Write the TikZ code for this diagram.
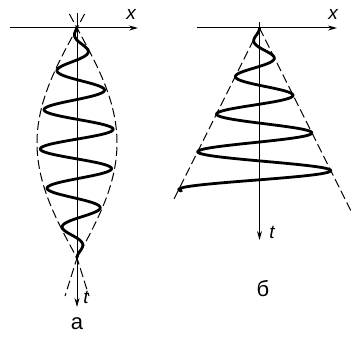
\documentclass[tikz,border=0pt]{standalone}
\usepackage{fontspec}
\setmainfont{Liberation Sans}
\usetikzlibrary{arrows.meta}

\tikzset{
  axis/.style={line width=1pt, -{Stealth[length=9pt, width=5pt]}},
  envelope/.style={line width=1pt, dash pattern=on 9pt off 4pt},
  wave/.style={line width=2.8pt, line join=round, line cap=round},
  lbl/.style={font=\fontsize{22}{24}\selectfont},
  axlbl/.style={font=\fontsize{19}{21}\selectfont\itshape}
}

\begin{document}
\begin{tikzpicture}[x=1pt, y=-1pt]
  \useasboundingbox (0,0) rectangle (352,342);

  % Panel a: axes
  \coordinate (Oa) at (77,28);
  \coordinate (xa0) at (10,28);
  \coordinate (xa1) at (138,28);
  \coordinate (ta0) at (77,13);
  \coordinate (ta1) at (77,307);
  \draw[axis] (xa0) -- (xa1);
  \draw[axis] (ta0) -- (ta1);
  \node[axlbl] (xlabela) at (131,14) {x};
  \node[axlbl] (tlabela) at (86,297) {t};

  % Panel a: envelope
  \draw[envelope] plot[variable=\t, domain=14:258, samples=80]
    ({77 - 40*sin((\t-28)*0.78261)}, \t) -- (89,296);
  \draw[envelope] plot[variable=\t, domain=14:258, samples=80]
    ({77 + 40*sin((\t-28)*0.78261)}, \t) -- (65,296);

  % Panel a: wave
  \draw[wave] plot[variable=\t, domain=28:258, samples=400, smooth]
    ({77 + 36.8*sin((\t-28)*0.78261)*sin((\t-40.1)*9.0909)}, \t);
  \node[lbl] (capa) at (77,324) {а};

  % Panel b: axes
  \coordinate (Ob) at (259.5,28);
  \coordinate (xb0) at (197,28);
  \coordinate (xb1) at (337,28);
  \coordinate (tb0) at (259.5,22);
  \coordinate (tb1) at (259.5,240);
  \draw[axis] (xb0) -- (xb1);
  \draw[axis] (tb0) -- (tb1);
  \node[axlbl] (xlabelb) at (333,14) {x};
  \node[axlbl] (tlabelb) at (272,232) {t};

  % Panel b: cone
  \draw[envelope] (Ob) -- (173,201);
  \draw[envelope] (Ob) -- (352,213);

  % Panel b: wave
  \draw[wave] plot[variable=\t, domain=28:191, samples=400, smooth]
    ({259.5 + 0.5*(\t-28)*sin((\t-47.5)*9.5238)}, \t);
  \node[lbl] (capb) at (263,289) {б};
\end{tikzpicture}
\end{document}
